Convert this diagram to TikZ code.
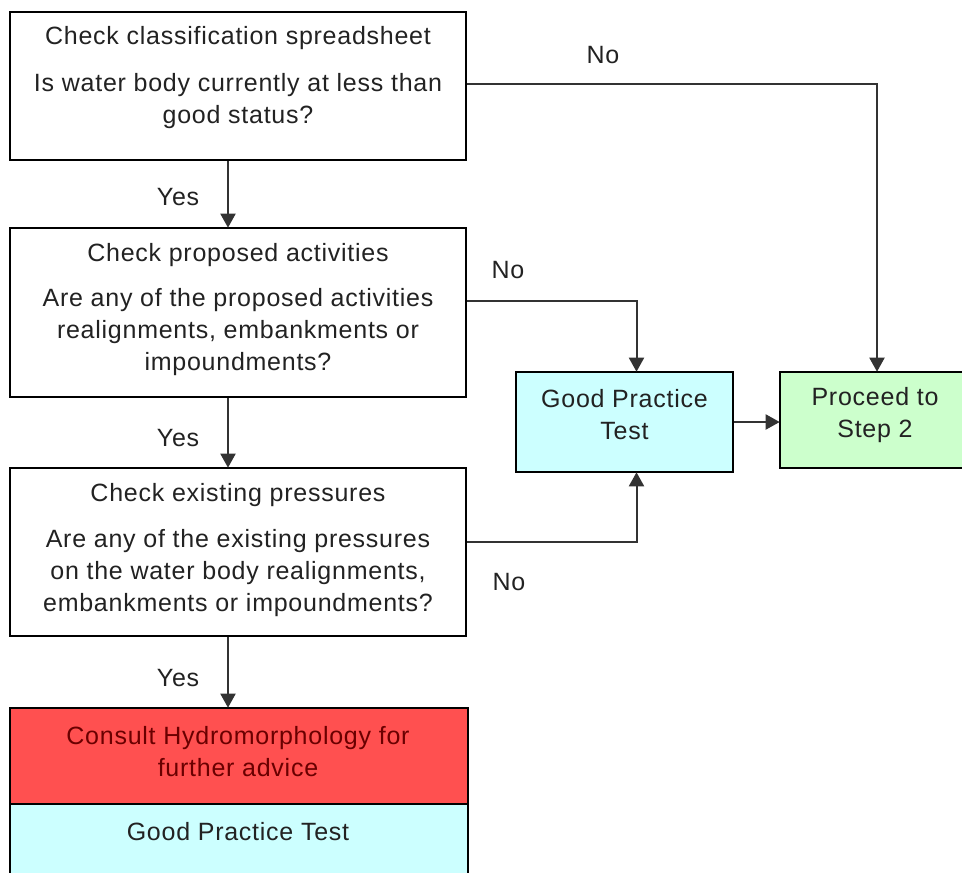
\documentclass[tikz,border=0pt]{standalone}
\usepackage{fontspec}
\setmainfont{Liberation Sans}[LetterSpace=3]
\usetikzlibrary{arrows.meta}
\definecolor{txt}{HTML}{222222}
\definecolor{linec}{HTML}{333333}
\definecolor{redfill}{HTML}{FF5050}
\definecolor{redtxt}{HTML}{6A0000}
\definecolor{cyanfill}{HTML}{CCFFFF}
\definecolor{greenfill}{HTML}{CCFFCC}
\tikzset{
  box/.style={draw=black, line width=1.6pt, rectangle, inner sep=0pt, fill=white},
  txtn/.style={font=\fontsize{25}{32}\selectfont, text=txt, align=center, inner sep=0pt},
  conn/.style={draw=linec, line width=2pt},
  arr/.style={conn, -{Triangle[width=15pt,length=14pt]}, shorten >=-0.5pt},
  lbl/.style={font=\fontsize{25}{32}\selectfont, text=txt, inner sep=0pt}
}
\begin{document}
\begin{tikzpicture}[x=1pt,y=-1pt]
\useasboundingbox (0,0) rectangle (962,873);
% boxes
\node[box, minimum width=456pt, minimum height=148pt] (b1) at (238,86) {};
\node[box, minimum width=456pt, minimum height=169pt] (b2) at (238,312.5) {};
\node[box, minimum width=456pt, minimum height=168pt] (b3) at (238,552) {};
\node[box, fill=redfill, minimum width=458pt, minimum height=96pt] (red) at (239,756) {};
\node[box, fill=cyanfill, minimum width=458pt, minimum height=80pt] (cy) at (239,844) {};
\node[box, fill=cyanfill, minimum width=217pt, minimum height=100pt] (gpt) at (624.5,422) {};
\node[box, fill=greenfill, minimum width=194pt, minimum height=96pt] (proc) at (877,420) {};
% texts
\node[txtn] (t1a) at (238,38) {Check classification spreadsheet};
\node[txtn] (t1b) at (238,101.5) {Is water body currently at less than\\good status?};
\node[txtn] (t2a) at (238,255) {Check proposed activities};
\node[txtn] (t2b) at (238,332) {Are any of the proposed activities\\realignments, embankments or\\impoundments?};
\node[txtn] (t3a) at (238,495) {Check existing pressures};
\node[txtn] (t3b) at (238,573) {Are any of the existing pressures\\on the water body realignments,\\embankments or impoundments?};
\node[txtn, text=redtxt] (tr) at (238,752) {Consult Hydromorphology for\\further advice};
\node[txtn] (tc) at (238,832) {Good Practice Test};
\node[txtn] (tg) at (624.5,415) {Good Practice\\Test};
\node[txtn] (tp) at (875,415) {Proceed to\\Step 2};
% connectors
\draw[arr] ([xshift=-10pt]b1.south) -- ([xshift=-10pt]b2.north);
\draw[arr] ([xshift=-10pt]b2.south) -- ([xshift=-10pt]b3.north);
\draw[arr] ([xshift=-10pt]b3.south) -- ([xshift=-11pt]red.north);
\draw[arr] ([yshift=2pt]b1.east) -| (proc.north);
\draw[arr] ([yshift=11.5pt]b2.east) -| ([xshift=12pt]gpt.north);
\draw[arr] ([yshift=10pt]b3.east) -| ([xshift=12pt]gpt.south);
\draw[arr] (gpt.east) -- (proc.west |- gpt.east);
% labels
\node[lbl] (no1) at (603,55) {No};
\node[lbl] (no2) at (508,270) {No};
\node[lbl] (no3) at (509,582) {No};
\node[lbl] (y1) at (178,197) {Yes};
\node[lbl] (y2) at (178,438) {Yes};
\node[lbl] (y3) at (178,678) {Yes};
\end{tikzpicture}
\end{document}
